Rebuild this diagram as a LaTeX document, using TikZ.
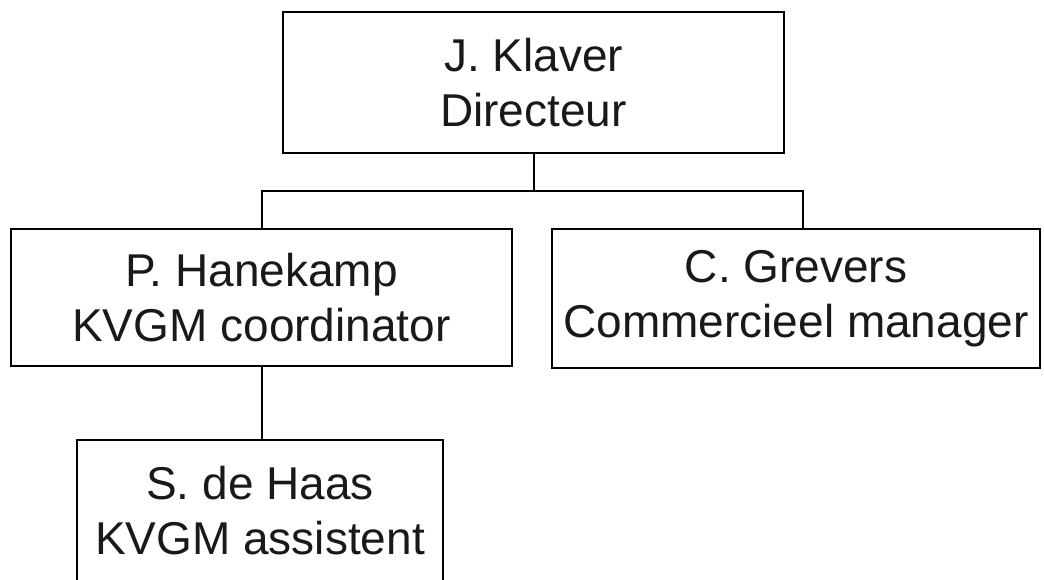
\documentclass[tikz,border=0pt]{standalone}
\usepackage{fontspec}
\setmainfont{Liberation Sans}
\begin{document}
\begin{tikzpicture}[x=1pt,y=-1pt,
  orgbox/.style={draw=black, line width=2.2pt, rectangle, align=center,
    inner sep=0pt, text=black!90, font=\fontsize{46}{55}\selectfont},
  link/.style={draw=black, line width=2pt}]
\useasboundingbox (0,0) rectangle (1044,579);
\clip (0,0) rectangle (1044,579);
\node[orgbox, minimum width=501pt, minimum height=141pt] (top) at (533.5,82.5) {J. Klaver\\Directeur};
\node[orgbox, minimum width=501pt, minimum height=137pt] (left) at (261.5,297.5) {P. Hanekamp\\KVGM coordinator};
\node[orgbox, minimum width=488pt, minimum height=139pt] (right) at (796,298.5) {C. Grevers\\Commercieel manager};
\node[orgbox, minimum width=366pt, minimum height=142pt] (bottom) at (260,511) {S. de Haas\\KVGM assistent};
\coordinate (bus) at (533.5,191);
\coordinate (rdrop) at (803,229);
\draw[link] (top.south) -- (bus);
\draw[link] (bus) -| (left.north);
\draw[link] (bus) -| (rdrop);
\draw[link] (left.south) -- (left.south |- bottom.north);
\end{tikzpicture}
\end{document}
